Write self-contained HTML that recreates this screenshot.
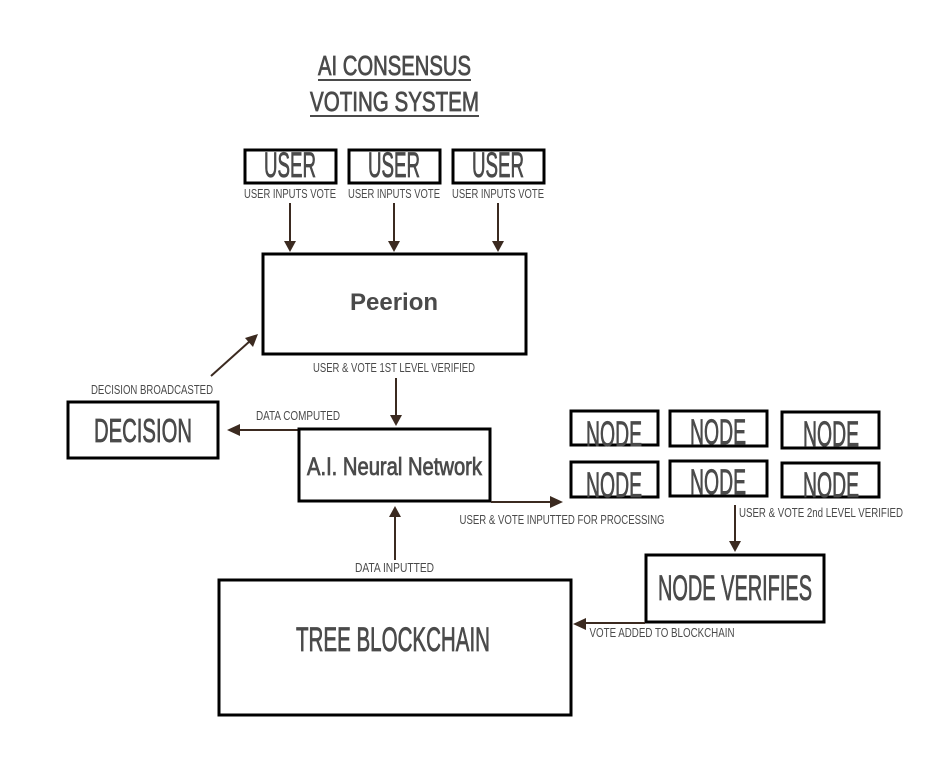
<!DOCTYPE html>
<html><head><meta charset="utf-8"><style>
html,body{margin:0;padding:0;background:#fff;width:928px;height:779px;overflow:hidden}
svg{display:block}
text{font-family:"Liberation Sans Narrow","Liberation Sans",sans-serif;fill:#4a4a4a;text-anchor:middle}
.big{stroke:#4a4a4a;stroke-width:0.8}
.b{fill:#fff;stroke:#000;stroke-width:3}
.a{stroke:#3b2a20;stroke-width:2;fill:none}
.h{fill:#3b2a20}
</style></head><body>
<svg width="928" height="779" viewBox="0 0 928 779" xmlns="http://www.w3.org/2000/svg">
<!-- title -->
<text class="big" x="394.5" y="75" font-size="28" textLength="153" lengthAdjust="spacingAndGlyphs">AI CONSENSUS</text>
<rect x="318" y="79" width="153" height="2" fill="#4a4a4a"/>
<text class="big" x="394.5" y="111" font-size="28" textLength="169" lengthAdjust="spacingAndGlyphs">VOTING SYSTEM</text>
<rect x="310" y="115" width="169" height="2" fill="#4a4a4a"/>

<!-- users -->
<rect class="b" x="245" y="150" width="91" height="33"/>
<rect class="b" x="349" y="150" width="91" height="33"/>
<rect class="b" x="453" y="150" width="91" height="33"/>
<g font-size="35" class="big">
<text x="290" y="177" textLength="52" lengthAdjust="spacingAndGlyphs">USER</text>
<text x="394" y="177" textLength="52" lengthAdjust="spacingAndGlyphs">USER</text>
<text x="498" y="177" textLength="52" lengthAdjust="spacingAndGlyphs">USER</text>
</g>
<g font-size="12.5">
<text x="290" y="198" textLength="92" lengthAdjust="spacingAndGlyphs">USER INPUTS VOTE</text>
<text x="394" y="198" textLength="92" lengthAdjust="spacingAndGlyphs">USER INPUTS VOTE</text>
<text x="498" y="198" textLength="92" lengthAdjust="spacingAndGlyphs">USER INPUTS VOTE</text>
</g>
<line class="a" x1="290" y1="203" x2="290" y2="242"/><polygon class="h" points="284,241 296,241 290,252"/>
<line class="a" x1="394" y1="203" x2="394" y2="242"/><polygon class="h" points="388,241 400,241 394,252"/>
<line class="a" x1="498" y1="203" x2="498" y2="242"/><polygon class="h" points="492,241 504,241 498,252"/>

<!-- Peerion -->
<rect class="b" x="263" y="254" width="263" height="100"/>
<text x="394" y="310" font-size="24" font-weight="bold" style="font-family:'Liberation Sans',sans-serif">Peerion</text>
<text x="394" y="372" font-size="12.5" textLength="162" lengthAdjust="spacingAndGlyphs">USER &amp; VOTE 1ST LEVEL VERIFIED</text>
<line class="a" x1="396" y1="378" x2="396" y2="416"/><polygon class="h" points="390,415 402,415 396,426"/>

<!-- decision -->
<rect class="b" x="68" y="402" width="150" height="56"/>
<text class="big" x="143" y="442" font-size="33" textLength="98" lengthAdjust="spacingAndGlyphs">DECISION</text>
<text x="152" y="394" font-size="12.5" textLength="122" lengthAdjust="spacingAndGlyphs">DECISION BROADCASTED</text>
<line class="a" x1="211" y1="376" x2="250" y2="341"/><polygon class="h" points="258,334 253,347 245,338"/>
<text x="298" y="420" font-size="12.5" textLength="84" lengthAdjust="spacingAndGlyphs">DATA COMPUTED</text>
<line class="a" x1="298" y1="430" x2="238" y2="430"/><polygon class="h" points="227,430 240,424 240,436"/>

<!-- AI -->
<rect class="b" x="299" y="429" width="191" height="72"/>
<text class="big" x="394.5" y="475" font-size="25" textLength="175" lengthAdjust="spacingAndGlyphs">A.I. Neural Network</text>
<line class="a" x1="491" y1="502" x2="552" y2="502"/><polygon class="h" points="563,502 550,496 550,508"/>
<text x="562" y="524" font-size="12.5" textLength="205" lengthAdjust="spacingAndGlyphs">USER &amp; VOTE INPUTTED FOR PROCESSING</text>
<line class="a" x1="395" y1="560" x2="395" y2="516"/><polygon class="h" points="389,517 401,517 395,506"/>
<text x="394.5" y="572" font-size="12.5" textLength="79" lengthAdjust="spacingAndGlyphs">DATA INPUTTED</text>

<!-- nodes -->
<rect class="b" x="571" y="411" width="87" height="34"/>
<rect class="b" x="670" y="411" width="97" height="35"/>
<rect class="b" x="782" y="412" width="97" height="36"/>
<rect class="b" x="571" y="462" width="87" height="35"/>
<rect class="b" x="670" y="461" width="97" height="35"/>
<rect class="b" x="782" y="463" width="97" height="34"/>
<g font-size="35" class="big">
<text x="614" y="446" textLength="56" lengthAdjust="spacingAndGlyphs">NODE</text>
<text x="718" y="444" textLength="56" lengthAdjust="spacingAndGlyphs">NODE</text>
<text x="831" y="446" textLength="56" lengthAdjust="spacingAndGlyphs">NODE</text>
<text x="614" y="497" textLength="56" lengthAdjust="spacingAndGlyphs">NODE</text>
<text x="718" y="494" textLength="56" lengthAdjust="spacingAndGlyphs">NODE</text>
<text x="831" y="497" textLength="56" lengthAdjust="spacingAndGlyphs">NODE</text>
</g>
<text x="821" y="517" font-size="12.5" textLength="164" lengthAdjust="spacingAndGlyphs">USER &amp; VOTE 2nd LEVEL VERIFIED</text>
<line class="a" x1="735" y1="505" x2="735" y2="542"/><polygon class="h" points="729,541 741,541 735,552"/>

<!-- node verifies -->
<rect class="b" x="646" y="555" width="178" height="67"/>
<text class="big" x="735" y="600" font-size="35" textLength="154" lengthAdjust="spacingAndGlyphs">NODE VERIFIES</text>
<line class="a" x1="645" y1="623" x2="584" y2="623"/><polygon class="h" points="573,624 586,618 586,630"/>
<text x="662" y="637" font-size="12.5" textLength="145" lengthAdjust="spacingAndGlyphs">VOTE ADDED TO BLOCKCHAIN</text>

<!-- tree -->
<rect class="b" x="219" y="580" width="352" height="135"/>
<text class="big" x="393" y="651" font-size="34" textLength="194" lengthAdjust="spacingAndGlyphs">TREE BLOCKCHAIN</text>
</svg>
</body></html>
